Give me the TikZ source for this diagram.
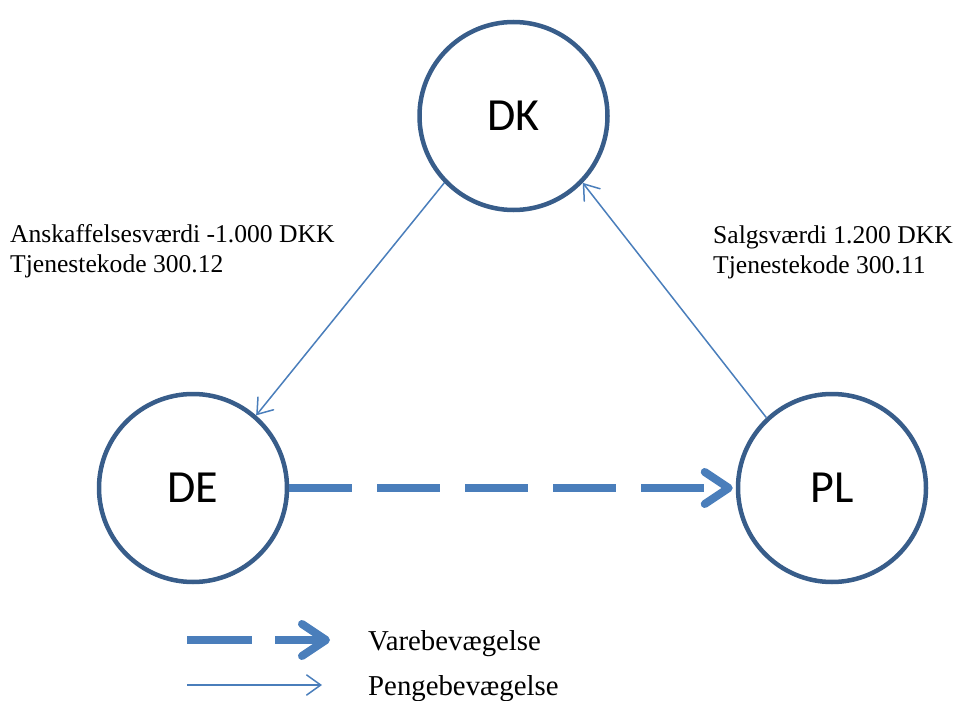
\documentclass[tikz,border=0pt]{standalone}
\usepackage{fontspec}
\setmainfont{Liberation Serif}
\newfontfamily\circfont{Carlito}
\usetikzlibrary{arrows.meta}
\definecolor{circblue}{HTML}{385D8A}
\definecolor{arrblue}{HTML}{4A7EBB}
\tikzset{
  country/.style={circle, draw=circblue, line width=4.5pt, minimum size=188pt, inner sep=0pt, font=\circfont\fontsize{46}{50}\selectfont},
  money/.style={draw=arrblue, line width=1.5pt, -{Straight Barb[length=14pt,width=20pt,line cap=round]}},
  goods/.style={draw=arrblue, line width=8pt, dash pattern=on 63pt off 25pt, -{Straight Barb[length=24pt,width=32pt,line cap=round,line join=round]}},
  lbl/.style={inner sep=0pt, align=left, font=\fontsize{25.6}{30}\selectfont},
  leg/.style={inner sep=0pt, anchor=base west, font=\fontsize{28.8}{32}\selectfont}
}
\begin{document}
\begin{tikzpicture}[x=1pt,y=-1pt]
\useasboundingbox (0,0) rectangle (959,701);
\node[country] (DK) at (513.5,116) {DK};
\node[country] (DE) at (193,488) {DE};
\node[country] (PL) at (832,488) {PL};
\draw[money] (DK.224) -- (DE.49);
\draw[money] (PL.133) -- (DK.316);
\draw[goods, shorten >=3pt] (DE.east) -- (PL.west);
\node[lbl, anchor=north west] (lblA) at (10,224.5) {Anskaffelsesværdi -1.000 DKK\\Tjenestekode 300.12};
\node[lbl, anchor=north west] (lblS) at (713,225.5) {Salgsværdi 1.200 DKK\\Tjenestekode 300.11};
\coordinate (g1) at (187,640);
\coordinate (g2) at (330,640);
\coordinate (m1) at (187,685);
\coordinate (m2) at (322,685);
\draw[goods, dash pattern=on 65pt off 23pt] (g1) -- (g2);
\draw[money] (m1) -- (m2);
\node[leg] (legV) at (368,650) {Varebevægelse};
\node[leg] (legP) at (368,695) {Pengebevægelse};
\end{tikzpicture}
\end{document}
